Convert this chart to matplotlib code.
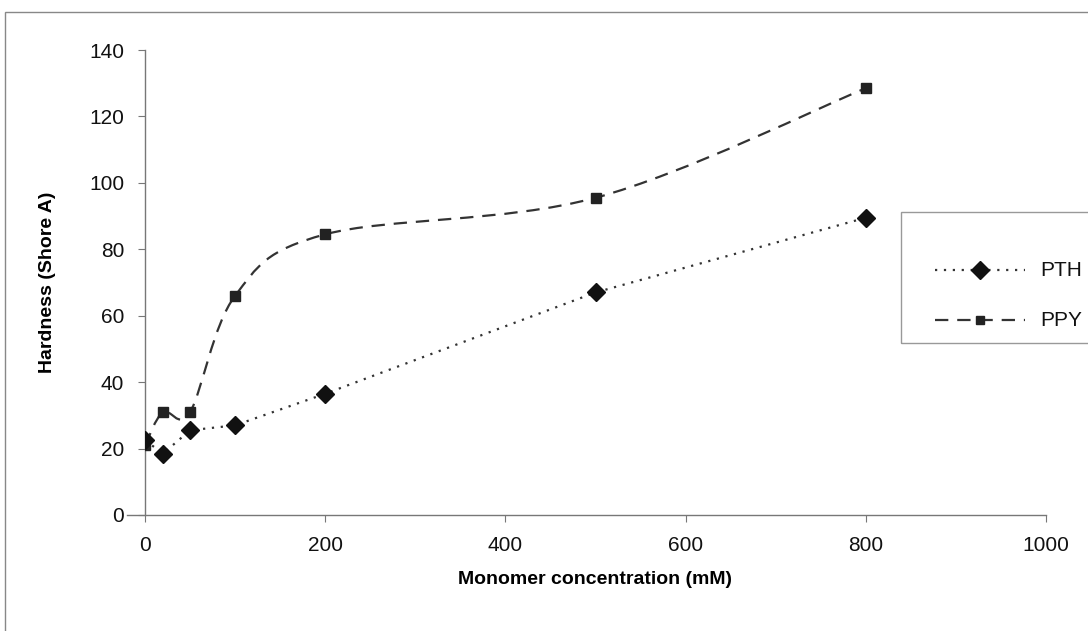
import matplotlib
matplotlib.use("Agg")
import matplotlib.pyplot as plt
import numpy as np
from matplotlib.path import Path
from matplotlib.patches import PathPatch, Rectangle
from matplotlib.lines import Line2D

plt.rcParams["font.family"] = ["Liberation Sans", "DejaVu Sans"]

# Data
conc = [0, 20, 50, 100, 200, 500, 800]
pth = [22.5, 18.5, 25.5, 27, 36.5, 67, 89.5]
ppy = [21, 31, 31, 66, 84.5, 95.5, 128.5]
series_names = ["PTH", "PPY"]


def smooth_path(x, y):
    # Excel-like smoothed line: Catmull-Rom converted to cubic Bezier
    pts = np.column_stack([x, y]).astype(float)
    verts = [pts[0]]
    codes = [Path.MOVETO]
    n = len(pts)
    for i in range(n - 1):
        p0 = pts[i - 1] if i > 0 else pts[i]
        p1 = pts[i]
        p2 = pts[i + 1]
        p3 = pts[i + 2] if i + 2 < n else pts[i + 1]
        c1 = p1 + (p2 - p0) / 6.0
        c2 = p2 - (p3 - p1) / 6.0
        verts += [c1, c2, p2]
        codes += [Path.CURVE4] * 3
    return Path(verts, codes)


W, H = 1088, 631
fig = plt.figure(figsize=(W / 100, H / 100), dpi=100)
ax = fig.add_axes([145 / W, 1 - 515 / H, (1046 - 145) / W, (515 - 50) / H])

# outer chart border (cropped at the right and bottom)
fig.patches.append(Rectangle((5 / W, -0.05), 1.2, 1 - 12 / H + 0.05,
                             transform=fig.transFigure, fill=False,
                             edgecolor="#888888", linewidth=1.0))

pth_style = dict(linestyle=(0, (1, 3)), color="#333333", linewidth=1.6,
                 marker="D", markersize=9, markerfacecolor="#111111",
                 markeredgecolor="#111111")
ppy_style = dict(linestyle=(0, (6, 4)), color="#333333", linewidth=1.6,
                 marker="s", markersize=6, markerfacecolor="#222222",
                 markeredgecolor="#222222")

ax.plot(conc, pth, zorder=4, **pth_style)

ax.add_patch(PathPatch(smooth_path(conc, ppy), fill=False, edgecolor="#333333",
                       linestyle=(0, (6, 4)), linewidth=1.6, zorder=3))
ax.plot(conc, ppy, linestyle="none", marker="s", markersize=7,
        markerfacecolor="#222222", markeredgecolor="#222222", zorder=3)

ax.set_xlim(0, 1000)
ax.set_ylim(0, 140)
ax.set_xticks(range(0, 1001, 200))
ax.set_yticks(range(0, 141, 20))
for side in ["top", "right"]:
    ax.spines[side].set_visible(False)
for side in ["left", "bottom"]:
    ax.spines[side].set_color("#777777")
    ax.spines[side].set_linewidth(1.0)
ax.spines["bottom"].set_bounds(-20, 1000)
ax.tick_params(axis="both", direction="out", length=5, color="#777777",
               labelsize=15, labelcolor="#111111", pad=10)
ax.set_xlabel("Monomer concentration (mM)", fontsize=14, fontweight="bold",
              labelpad=12)
ax.set_ylabel("Hardness (Shore A)", fontsize=14, fontweight="bold",
              labelpad=24)

# legend box, laid out by hand to match the original placement
fig.patches.append(Rectangle((901 / W, 1 - 343 / H), 0.3, 131 / H,
                             transform=fig.transFigure, fill=False,
                             edgecolor="#999999", linewidth=1.0))
for name, style, ypix in zip(series_names, [pth_style, ppy_style], [270, 320]):
    yf = 1 - ypix / H
    fig.add_artist(Line2D([935 / W, 1025 / W], [yf, yf], markevery=[],
                          transform=fig.transFigure,
                          **{k: v for k, v in style.items() if not k.startswith("marker")}))
    fig.add_artist(Line2D([980 / W], [yf], transform=fig.transFigure,
                          linestyle="none", marker=style["marker"],
                          markersize=style["markersize"],
                          markerfacecolor=style["markerfacecolor"],
                          markeredgecolor=style["markeredgecolor"]))
    fig.text(1040 / W, yf, name, fontsize=15, va="center", ha="left",
             color="#111111")

fig.savefig("out.png", dpi=100)
